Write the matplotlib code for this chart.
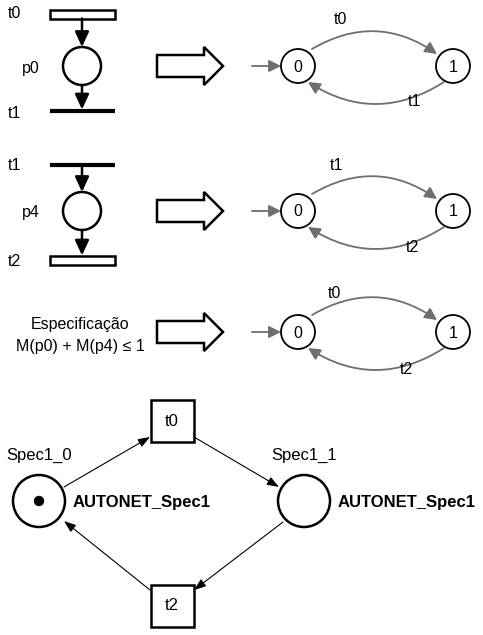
import matplotlib
matplotlib.use("Agg")
import matplotlib.pyplot as plt
from matplotlib.patches import Circle, Rectangle, Polygon, FancyArrowPatch

plt.rcParams['font.family'] = ['Liberation Sans', 'DejaVu Sans']

# ---- data (labels) ----
petri_rows = [
    {"top": "t0", "place": "p0", "bottom": "t1", "top_kind": "box", "bottom_kind": "bar"},
    {"top": "t1", "place": "p4", "bottom": "t2", "top_kind": "bar", "bottom_kind": "box"},
]
automata_states = ["0", "1"]
automata_events = [("t0", "t1"), ("t1", "t2"), ("t0", "t2")]
spec_text = ["Especificação", "M(p0) + M(p4) ≤ 1"]
spec_places = ["Spec1_0", "Spec1_1"]
spec_place_label = "AUTONET_Spec1"
spec_transitions = ["t0", "t2"]
spec_tokens = [1, 0]

# ---- layout ----
W, H = 483, 635
fig = plt.figure(figsize=(W / 100, H / 100), dpi=100)
ax = fig.add_axes([0, 0, 1, 1])
ax.set_xlim(0, W)
ax.set_ylim(H, 0)
ax.axis('off')

FS = 11.5
row_y = [66, 211, 332]


def big_arrow(cy):
    pts = [(157, cy - 11), (204, cy - 11), (204, cy - 19), (223, cy),
           (204, cy + 19), (204, cy + 11), (157, cy + 11)]
    ax.add_patch(Polygon(pts, closed=True, fill=False, ec='black', lw=1.8, joinstyle='miter'))


def petri_arrow(y0, y1, x=82):
    ax.add_patch(FancyArrowPatch((x, y0), (x, y1), arrowstyle='-|>,head_length=0.65,head_width=0.3',
                                 mutation_scale=14, color='black', lw=1.8, shrinkA=0, shrinkB=0))


def transition(kind, y):
    if kind == "box":
        ax.add_patch(Rectangle((50, y - 4.5), 65, 9, fill=False, ec='black', lw=1.8))
    else:
        ax.plot([50, 115], [y, y], color='black', lw=3, solid_capstyle='butt')


petri_y = [(14, 66, 111), (165, 211, 260)]
for row, (yt, yp, yb) in zip(petri_rows, petri_y):
    transition(row["top_kind"], yt)
    transition(row["bottom_kind"], yb)
    ax.add_patch(Circle((82, yp), 19, fill=False, ec='black', lw=1.8))
    petri_arrow(yt + (4.5 if row["top_kind"] == "box" else 1.5), yp - 19)
    petri_arrow(yp + 19, yb - (4.5 if row["bottom_kind"] == "box" else 1.5))
    ax.text(8, yt, row["top"], fontsize=FS, va='center', ha='left')
    ax.text(22, yp + 2, row["place"], fontsize=FS, va='center', ha='left')
    ax.text(8, yb + 2, row["bottom"], fontsize=FS, va='center', ha='left')

ax.text(80, 325, spec_text[0], fontsize=FS, ha='center', va='center')
ax.text(80, 347, spec_text[1], fontsize=FS, ha='center', va='center')

for cy in row_y:
    big_arrow(cy)

# ---- automata ----
GREY = '#6e6e6e'
x0, x1 = 298, 453
label_pos = [((340, 20), (414, 102)), ((336, 166), (412, 248)), ((334, 293), (406, 370))]
for cy, (ev_top, ev_bot), (lt, lb) in zip(row_y, automata_events, label_pos):
    for x, s in zip((x0, x1), automata_states):
        ax.add_patch(Circle((x, cy), 17, fill=False, ec='black', lw=1.3))
        ax.text(x, cy + 1, s, fontsize=FS, ha='center', va='center')
    ax.add_patch(FancyArrowPatch((252, cy), (281, cy), arrowstyle='-|>,head_length=0.6,head_width=0.3',
                                 mutation_scale=12, color=GREY, lw=1.3, shrinkA=0, shrinkB=0))
    ax.add_patch(FancyArrowPatch((312, cy - 17), (437, cy - 12), connectionstyle='arc3,rad=-0.32',
                                 arrowstyle='-|>,head_length=0.6,head_width=0.3',
                                 mutation_scale=12, color=GREY, lw=1.3, shrinkA=0, shrinkB=0))
    ax.add_patch(FancyArrowPatch((444, cy + 16), (308, cy + 16), connectionstyle='arc3,rad=-0.32',
                                 arrowstyle='-|>,head_length=0.6,head_width=0.3',
                                 mutation_scale=12, color=GREY, lw=1.3, shrinkA=0, shrinkB=0))
    ax.text(lt[0], lt[1], ev_top, fontsize=FS, ha='center', va='center')
    ax.text(lb[0], lb[1], ev_bot, fontsize=FS, ha='center', va='center')

# ---- bottom Petri net ----
pc = [(39, 501), (304, 501)]
tc = [(172, 421), (172, 606)]
for (x, y), name, tok in zip(pc, spec_places, spec_tokens):
    ax.add_patch(Circle((x, y), 26, fill=False, ec='black', lw=1.8))
    if tok:
        ax.add_patch(Circle((x, y), 4.5, color='black'))
    ax.text(x, 455, name, fontsize=12, ha='center', va='center')
    ax.text(x + 34, y + 1, spec_place_label, fontsize=12, ha='left', va='center', fontweight='bold')
for (x, y), name in zip(tc, spec_transitions):
    ax.add_patch(Rectangle((x - 21.5, y - 21), 43, 42, fill=False, ec='black', lw=1.8))
    ax.text(x, y, name, fontsize=12, ha='center', va='center')

arcs = [((64, 487), (150, 437)), ((194, 437), (279, 487)),
        ((283, 522), (194, 590)), ((150, 590), (64, 521))]
for a, b in arcs:
    ax.add_patch(FancyArrowPatch(a, b, arrowstyle='-|>,head_length=0.6,head_width=0.22',
                                 mutation_scale=12, color='black', lw=0.8, shrinkA=0, shrinkB=0))

fig.savefig('out.png', dpi=100)
